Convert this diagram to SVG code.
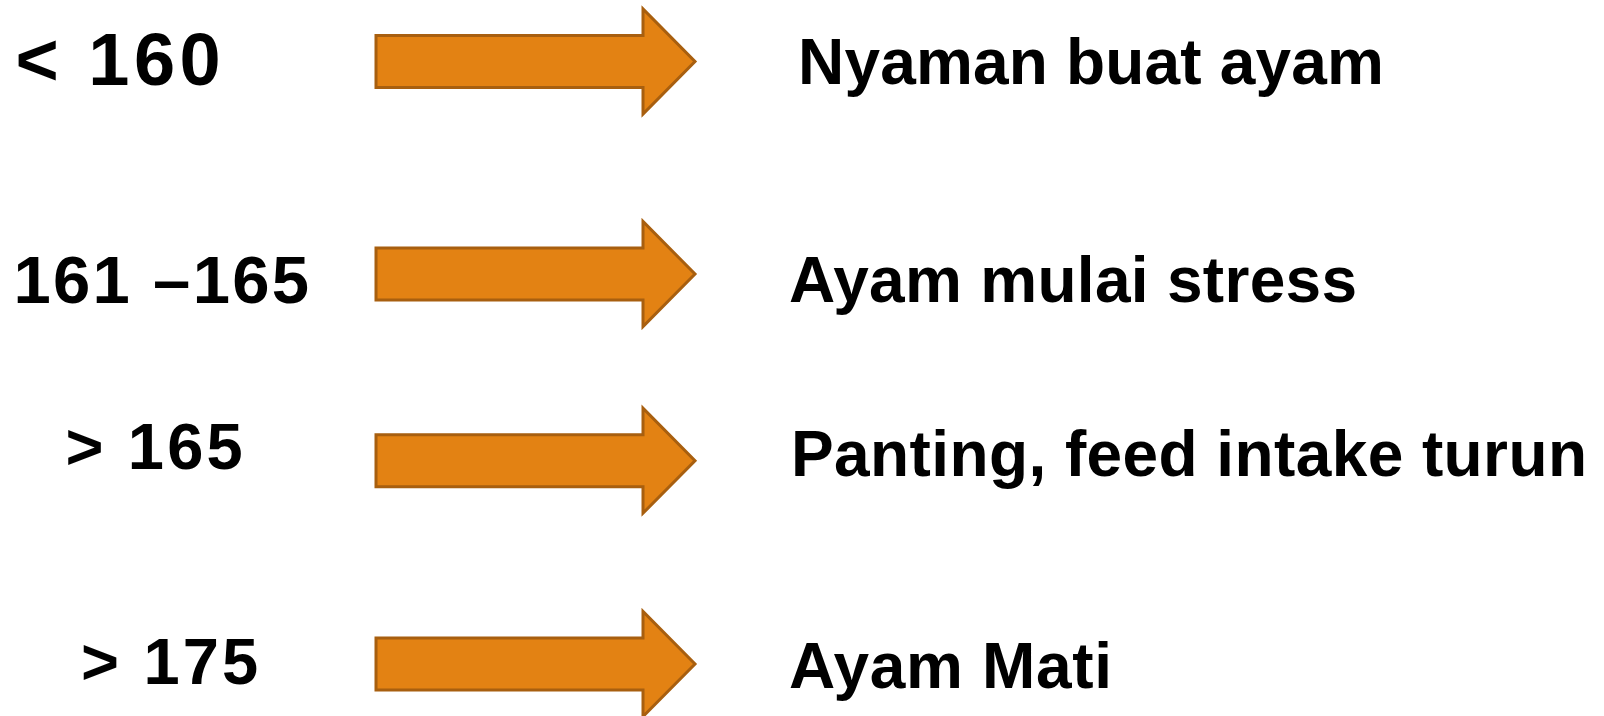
<svg xmlns="http://www.w3.org/2000/svg" xmlns:xlink="http://www.w3.org/1999/xlink" width="1604" height="716" viewBox="0 0 1604 716">
  <style>
    .lbl { font-family: "Liberation Sans", Arial, sans-serif; font-weight: bold; fill: #000; }
    .big { font-size: 74px; letter-spacing: 4.5px; }
    .mid { font-size: 67px; letter-spacing: 2.3px; }
    .sm { font-size: 65px; letter-spacing: 3.2px; }
    .res { font-size: 64px; }
    .arrow { fill: #E38213; stroke: #A85F0F; stroke-width: 3; stroke-linejoin: miter; }
  </style>
  <defs>
    <path id="arr" d="M0,-26 H267 V-52.5 L319,0 L267,52.5 V26 H0 Z"/>
  </defs>
  <rect width="1604" height="716" fill="#fff"/>
  <g id="connectors">
    <use xlink:href="#arr" href="#arr" class="arrow" transform="translate(376,61.5)"/>
    <use xlink:href="#arr" href="#arr" class="arrow" transform="translate(376,274)"/>
    <use xlink:href="#arr" href="#arr" class="arrow" transform="translate(376,460.7)"/>
    <use xlink:href="#arr" href="#arr" class="arrow" transform="translate(376,664)"/>
  </g>
  <g id="node-lt160"><text class="lbl big" x="15.5" y="85">&lt; 160</text></g>
  <g id="node-161-165"><text class="lbl mid" x="13.5" y="302.7">161 –165</text></g>
  <g id="node-gt165"><text class="lbl sm" x="65.4" y="469">&gt; 165</text></g>
  <g id="node-gt175"><text class="lbl sm" x="81" y="684">&gt; 175</text></g>
  <g id="node-nyaman"><text class="lbl res" x="798" y="84" textLength="586" lengthAdjust="spacing">Nyaman buat ayam</text></g>
  <g id="node-stress"><text class="lbl res" x="789" y="302" textLength="568" lengthAdjust="spacing">Ayam mulai stress</text></g>
  <g id="node-panting"><text class="lbl res" x="791" y="475.5" textLength="796" lengthAdjust="spacing">Panting, feed intake turun</text></g>
  <g id="node-mati"><text class="lbl res" x="789" y="688" textLength="323" lengthAdjust="spacing">Ayam Mati</text></g>
</svg>
